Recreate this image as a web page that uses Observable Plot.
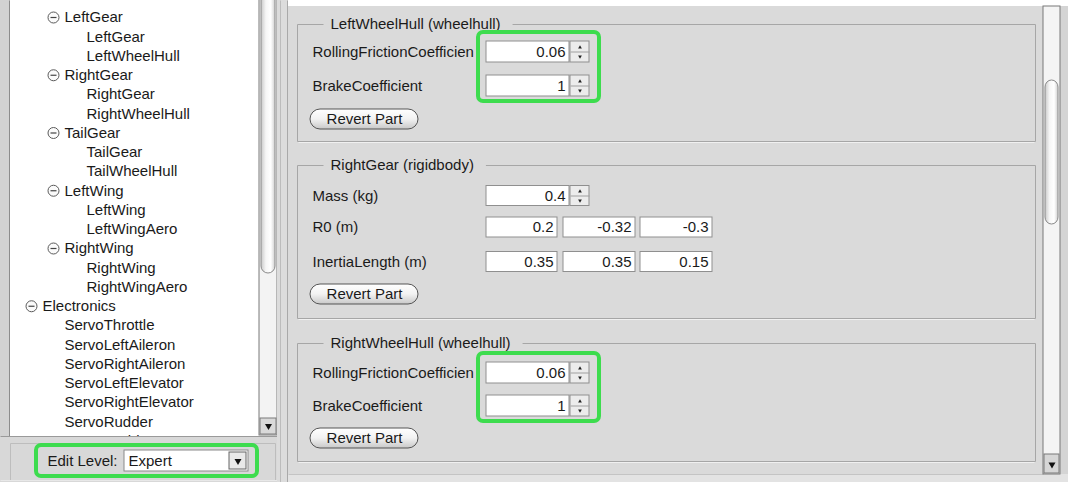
<!DOCTYPE html>
<html><head><meta charset="utf-8">
<script src="https://cdn.jsdelivr.net/npm/d3@7"></script>
<script src="https://cdn.jsdelivr.net/npm/@observablehq/plot@0.6"></script>
<style>body{margin:0;background:#fff;overflow:hidden}</style>
</head><body><div id="chart"></div>
<script>
// ---------- data ----------
const treeLabels = ["LeftGear","LeftGear","LeftWheelHull","RightGear","RightGear","RightWheelHull",
  "TailGear","TailGear","TailWheelHull","LeftWing","LeftWing","LeftWingAero","RightWing","RightWing",
  "RightWingAero","Electronics","ServoThrottle","ServoLeftAileron","ServoRightAileron",
  "ServoLeftElevator","ServoRightElevator","ServoRudder","ServoRudder2"];
const treeLevels = [1,2,2,1,2,2,1,2,2,1,2,2,1,2,2,0,1,1,1,1,1,1,1];
const treeExpanded = [1,0,0,1,0,0,1,0,0,1,0,0,1,0,0,1,0,0,0,0,0,0,0];

const groupTitles = ["LeftWheelHull (wheelhull)","RightGear (rigidbody)","RightWheelHull (wheelhull)"];
const fieldGroup = [0,0,1,1,1,2,2];
const fieldLabels = ["RollingFrictionCoefficien","BrakeCoefficient","Mass (kg)","R0 (m)",
  "InertiaLength (m)","RollingFrictionCoefficien","BrakeCoefficient"];
const fieldValues = [["0.06"],["1"],["0.4"],["0.2","-0.32","-0.3"],["0.35","0.35","0.15"],["0.06"],["1"]];
const highlightedFields = [[0,1],[5,6]];
const buttonLabel = "Revert Part";
const editLevelLabel = "Edit Level:";
const editLevelValue = "Expert";

// ---------- layout ----------
const FONT = "Liberation Sans, Arial, sans-serif";
const FS = 15;
const rowTop = 17, rowStep = 19.25;
const treeRows = treeLabels.map((t,i)=>({
  label:t, level:treeLevels[i], exp:treeExpanded[i],
  y: rowTop + i*rowStep, tx: 42 + 22*treeLevels[i], cx: 31 + 22*treeLevels[i]
}));
const groupTop = [24,165,343], groupBottom = [141,318,461], buttonY = [119,294,438];
const fieldY = [51.5,85.5,195.5,227,261.5,372.5,405.5];
const fieldH = [21,21,20,20,20,21,21];
const singleBox = [[486,569]];
const tripleBox = [[486,557],[563,635],[640,712]];

const ctx = document.createElement("canvas").getContext("2d");
ctx.font = `${FS}px ${FONT}`;
const tw = s => ctx.measureText(s).width;

const groups = groupTitles.map((t,i)=>({title:t, top:groupTop[i], bottom:groupBottom[i], by:buttonY[i], tEnd:330+tw(t)+12}));
const fields = fieldLabels.map((l,i)=>({label:l, y:fieldY[i], h:fieldH[i], values:fieldValues[i]}));
const inputs = fields.flatMap(f => {
  const boxes = f.values.length === 1 ? singleBox : tripleBox;
  return f.values.map((v,j)=>({v, x1:boxes[j][0], x2:boxes[j][1], y1:f.y-f.h/2, y2:f.y+f.h/2, spin:f.values.length===1}));
});
const spinners = inputs.filter(d=>d.spin).map(d=>({x1:d.x2+1, x2:d.x2+20, y1:d.y1, y2:d.y2, cx:d.x2+10.5, cy:(d.y1+d.y2)/2}));
const highlights = highlightedFields.map(([a,b])=>({x1:478, x2:599, y1:fieldY[a]-fieldH[a]/2-9, y2:fieldY[b]+fieldH[b]/2+5}));

const R = (x1,y1,x2,y2,o={}) => Plot.rect([{x1,y1,x2,y2}],{x1:"x1",y1:"y1",x2:"x2",y2:"y2",...o});
const L = (x1,y1,x2,y2,o={}) => Plot.link([{x1,y1,x2,y2}],{x1:"x1",y1:"y1",x2:"x2",y2:"y2",...o});
const T = (data,o) => Plot.text(data,{fontFamily:FONT,fontSize:FS,fill:"#1a1a1a",textAnchor:"start",...o});

const marks = [
  // left tree area
  R(0,0,10,482,{fill:"#d2d2d2"}),
  L(9,0,9,436,{stroke:"#8c8c8c"}),
  R(10,0,259,436,{fill:"#ffffff"}),
  Plot.dot(treeRows.filter(d=>d.exp),{x:"cx",y:"y",r:5.5,fill:"#fbfbfb",stroke:"#5a5a5a",strokeWidth:1}),
  Plot.link(treeRows.filter(d=>d.exp),{x1:d=>d.cx-3,x2:d=>d.cx+3,y1:"y",y2:"y",stroke:"#444",strokeWidth:1.2}),
  T(treeRows,{x:"tx",y:"y",text:"label"}),
  // left scrollbar
  R(259,-2,277,435,{fill:"#f3f3f3",stroke:"#7a7a7a"}),
  R(261,-8,275,273,{fill:"url(#thumbGrad)",stroke:"#8a8a8a",rx:7}),
  R(260,418,276,434,{fill:"#d9d9d9",stroke:"#7a7a7a"}),
  Plot.dot([{x:268,y:425.5}],{x:"x",y:"y",symbol:"triangle",r:2.6,fill:"#111",rotate:180}),
  // bottom-left edit level area
  R(0,436,280,482,{fill:"#d8d8d8"}),
  L(0,436,280,436,{stroke:"#9a9a9a"}),
  L(10,443,275,443,{stroke:"#bdbdbd"}),
  L(10,443,10,480,{stroke:"#bdbdbd"}),
  L(275,443,275,480,{stroke:"#bdbdbd"}),
  L(0,480,280,480,{stroke:"#e8e8e8"}),
  R(36,445,257,476,{fill:"none",stroke:"#3ddc4e",strokeWidth:4,rx:5}),
  T([editLevelLabel],{x:47,y:461,text:d=>d}),
  R(124,450,248,471,{fill:"#ffffff",stroke:"#8a8a8a"}),
  T([editLevelValue],{x:128,y:461,text:d=>d}),
  R(229,452,246,469,{fill:"#e9e9e9",stroke:"#666"}),
  Plot.dot([{x:237.5,y:460.5}],{x:"x",y:"y",symbol:"triangle",r:2.6,fill:"#111",rotate:180}),
  // divider
  R(277,0,288,482,{fill:"#dcdcdc"}),
  L(280,0,280,482,{stroke:"#bcbcbc"}),
  L(287,0,287,482,{stroke:"#a9a9a9"}),
  // right panel
  R(288,0,1068,6,{fill:"#ffffff"}),
  R(288,6,1043,474,{fill:"#dadada"}),
  R(288,474,1068,482,{fill:"#e3e3e3"}),
  L(288,474,1043,474,{stroke:"#c4c4c4"}),
  R(1060,6,1068,474,{fill:"#d4d4d4"}),
  // group boxes
  Plot.link(groups,{x1:297,x2:297,y1:"top",y2:"bottom",stroke:"#a6a6a6"}),
  Plot.link(groups,{x1:1035,x2:1035,y1:"top",y2:"bottom",stroke:"#a6a6a6"}),
  Plot.link(groups,{x1:297,x2:1035,y1:"bottom",y2:"bottom",stroke:"#a6a6a6"}),
  Plot.link(groups,{x1:298,x2:1034,y1:d=>d.bottom+1,y2:d=>d.bottom+1,stroke:"#f0f0f0"}),
  Plot.link(groups,{x1:297,x2:323,y1:"top",y2:"top",stroke:"#a6a6a6"}),
  Plot.link(groups,{x1:"tEnd",x2:1035,y1:"top",y2:"top",stroke:"#a6a6a6"}),
  T(groups,{x:330,y:"top",text:"title"}),
  // field labels
  T(fields,{x:312,y:"y",text:"label"}),
  // inputs
  Plot.rect(inputs,{x1:"x1",x2:"x2",y1:"y1",y2:"y2",fill:"#ffffff",stroke:"#8f8f8f"}),
  T(inputs,{x:d=>d.x2-4,y:d=>(d.y1+d.y2)/2,text:"v",textAnchor:"end"}),
  Plot.rect(spinners,{x1:"x1",x2:"x2",y1:"y1",y2:"y2",fill:"#ececec",stroke:"#8f8f8f"}),
  Plot.link(spinners,{x1:"x1",x2:"x2",y1:"cy",y2:"cy",stroke:"#a0a0a0"}),
  Plot.dot(spinners,{x:"cx",y:d=>d.cy-4.5,symbol:"triangle",r:1.4,fill:"#222"}),
  Plot.dot(spinners,{x:"cx",y:d=>d.cy+4.5,symbol:"triangle",r:1.4,fill:"#222",rotate:180}),
  // buttons
  Plot.rect(groups,{x1:310,x2:418,y1:d=>d.by-10,y2:d=>d.by+10,fill:"url(#btnGrad)",stroke:"#555",rx:10}),
  T(groups,{x:364,y:"by",text:()=>buttonLabel,textAnchor:"middle"}),
  // highlights
  Plot.rect(highlights,{x1:"x1",x2:"x2",y1:"y1",y2:"y2",fill:"none",stroke:"#3ddc4e",strokeWidth:4,rx:5}),
  // right scrollbar
  R(1043,6,1060,474,{fill:"#f4f4f4",stroke:"#787878"}),
  R(1045,80,1058,224,{fill:"url(#thumbGrad)",stroke:"#8a8a8a",rx:7}),
  R(1044,454,1059,473,{fill:"#d6d6d6",stroke:"#787878"}),
  Plot.dot([{x:1051.5,y:464}],{x:"x",y:"y",symbol:"triangle",r:2.6,fill:"#111",rotate:180})
];

const plot = Plot.plot({
  width:1068, height:482, margin:0,
  x:{domain:[0,1068], range:[0,1068], axis:null},
  y:{domain:[0,482], range:[0,482], axis:null},
  style:{background:"#ffffff", fontFamily:FONT, overflow:"hidden"},
  marks
});
d3.select(plot).insert("defs",":first-child").html(`
  <linearGradient id="btnGrad" x1="0" y1="0" x2="0" y2="1">
    <stop offset="0" stop-color="#ffffff"/><stop offset="0.5" stop-color="#f2f2f2"/>
    <stop offset="1" stop-color="#c8c8c8"/></linearGradient>
  <linearGradient id="thumbGrad" x1="0" y1="0" x2="1" y2="0">
    <stop offset="0" stop-color="#c9c9c9"/><stop offset="0.35" stop-color="#f6f6f6"/>
    <stop offset="0.7" stop-color="#ffffff"/><stop offset="1" stop-color="#cfcfcf"/></linearGradient>`);
document.getElementById("chart").appendChild(plot);
</script></body></html>
